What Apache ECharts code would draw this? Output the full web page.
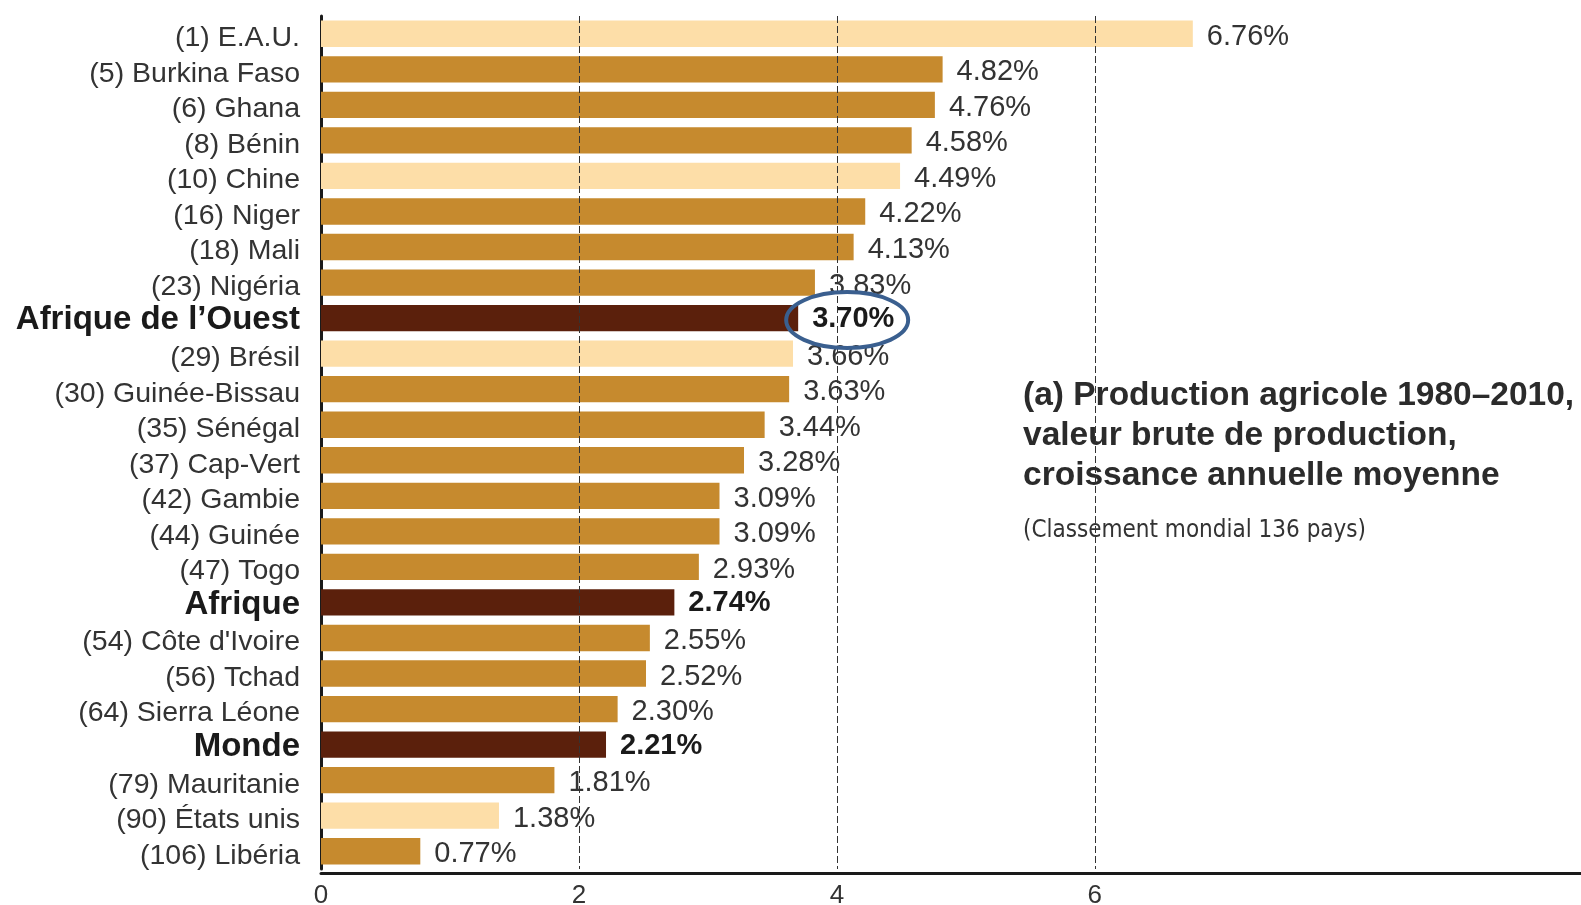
<!DOCTYPE html>
<html>
<head>
<meta charset="utf-8">
<title>Production agricole 1980-2010</title>
<script src="https://cdn.jsdelivr.net/npm/echarts@6/dist/echarts.min.js"></script>
<style>
    html, body { margin: 0; padding: 0; background: #fff; }
    #main { width: 1581px; height: 905px; }
</style>
</head>
<body>
<div id="main"></div>
<script>
// 数据
var categories = ['(1) E.A.U.', '(5) Burkina Faso', '(6) Ghana', '(8) Bénin', '(10) Chine', '(16) Niger',
    '(18) Mali', '(23) Nigéria', 'Afrique de l’Ouest', '(29) Brésil', '(30) Guinée-Bissau', '(35) Sénégal',
    '(37) Cap-Vert', '(42) Gambie', '(44) Guinée', '(47) Togo', 'Afrique', '(54) Côte d\'Ivoire',
    '(56) Tchad', '(64) Sierra Léone', 'Monde', '(79) Mauritanie', '(90) États unis', '(106) Libéria'];
var growth = [6.76, 4.82, 4.76, 4.58, 4.49, 4.22, 4.13, 3.83, 3.70, 3.66, 3.63, 3.44,
    3.28, 3.09, 3.09, 2.93, 2.74, 2.55, 2.52, 2.30, 2.21, 1.81, 1.38, 0.77];
var comparators = ['(1) E.A.U.', '(10) Chine', '(29) Brésil', '(90) États unis'];
var aggregates = ['Afrique de l’Ouest', 'Afrique', 'Monde'];
var xTicks = [0, 2, 4, 6];
var highlighted = 'Afrique de l’Ouest';

var FONT = '"Liberation Sans", Arial, Helvetica, sans-serif';
var COLOR_LIGHT = '#fddea8';
var COLOR_MID = '#c68a2e';
var COLOR_DARK = '#5b200c';

var myChart = echarts.init(document.getElementById('main'));

function barData() {
    return growth.map(function (v, i) {
        var name = categories[i];
        var isAgg = aggregates.indexOf(name) >= 0;
        var color = isAgg ? COLOR_DARK : (comparators.indexOf(name) >= 0 ? COLOR_LIGHT : COLOR_MID);
        return {
            value: v,
            itemStyle: { color: color },
            label: isAgg ? { fontWeight: 'bold', color: '#1a1a1a', offset: [0, 1] } : {}
        };
    });
}

var option = {
    animation: false,
    grid: { left: 321, right: 0, top: 16, bottom: 36, outerBoundsMode: 'none', containLabel: false },
    xAxis: {
        type: 'value',
        min: 0,
        max: 9.77,
        interval: 2,
        offset: 4,
        axisLine: { show: true, lineStyle: { color: '#1a1a1a', width: 3 } },
        axisTick: { show: false },
        splitLine: { show: false },
        axisLabel: {
            fontFamily: FONT,
            fontSize: 26,
            color: '#333',
            margin: 10,
            formatter: function (v) { return xTicks.indexOf(v) >= 0 ? String(v) : ''; }
        }
    },
    yAxis: {
        type: 'category',
        inverse: true,
        data: categories,
        axisLine: { show: true, lineStyle: { color: '#1a1a1a', width: 3 } },
        axisTick: { show: false },
        axisLabel: {
            margin: 21,
            formatter: function (v) {
                return aggregates.indexOf(v) >= 0 ? '{b|' + v + '}' : '{n|' + v + '}';
            },
            rich: {
                n: { fontFamily: FONT, fontSize: 28.5, color: '#333', padding: [9, 0, 0, 0] },
                b: { fontFamily: FONT, fontSize: 33, fontWeight: 'bold', color: '#1a1a1a', padding: [4, 0, 0, 0] }
            }
        }
    },
    series: [{
        type: 'bar',
        data: barData(),
        barCategoryGap: '26%',
        label: {
            show: true,
            position: 'right',
            distance: 14,
            offset: [0, 3],
            fontFamily: FONT,
            fontSize: 29,
            color: '#333',
            formatter: function (p) { return p.value.toFixed(2) + '%'; }
        },
        markLine: {
            silent: true,
            symbol: 'none',
            label: { show: false },
            lineStyle: { color: '#333', width: 1, type: [7, 3] },
            data: xTicks.filter(function (t) { return t > 0; }).map(function (t) { return { xAxis: t }; })
        },
        z: 2
    }],
    graphic: [{
        type: 'group',
        left: 1023,
        top: 379,
        children: [
            { type: 'text', x: 0, y: 0, style: { text: '(a) Production agricole 1980–2010,', font: 'bold 33.5px ' + FONT, fill: '#2b2b2b' } },
            { type: 'text', x: 0, y: 40, style: { text: 'valeur brute de production,', font: 'bold 33.5px ' + FONT, fill: '#2b2b2b' } },
            { type: 'text', x: 0, y: 80, style: { text: 'croissance annuelle moyenne', font: 'bold 33.5px ' + FONT, fill: '#2b2b2b' } },
            { type: 'text', x: 0, y: 140, style: { text: '(Classement mondial 136 pays)', font: '24px "Liberation Sans Narrow", "DejaVu Sans Condensed", ' + FONT, fill: '#333' } }
        ]
    }]
};

myChart.setOption(option);

// 圈出西非的值
var idx = categories.indexOf(highlighted);
var pt = myChart.convertToPixel({ seriesIndex: 0 }, [growth[idx], highlighted]);
myChart.setOption({
    graphic: [{
        type: 'ellipse',
        id: 'ring',
        shape: { cx: pt[0] + 49, cy: pt[1] + 2, rx: 61, ry: 28 },
        style: { fill: 'none', stroke: '#3a5f8f', lineWidth: 4 },
        z: 10
    }]
});
</script>
</body>
</html>
